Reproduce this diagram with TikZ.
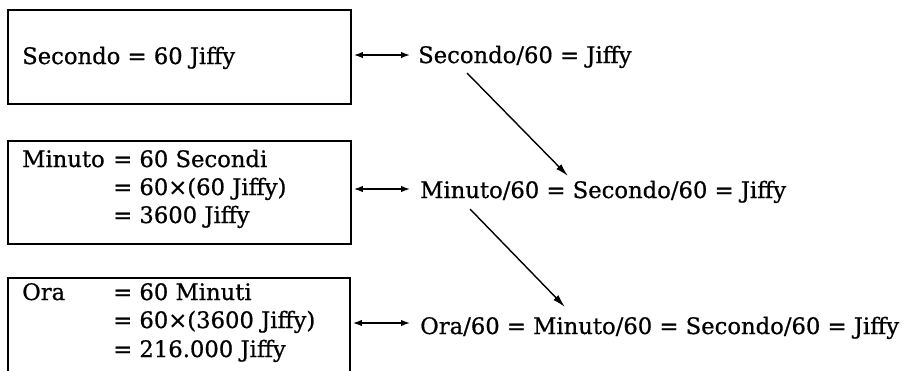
\documentclass[tikz,border=0pt]{standalone}
\usepackage{fontspec}
\setmainfont{DejaVu Serif}[FakeBold=0.7]
\usetikzlibrary{arrows.meta}
\begin{document}
\begin{tikzpicture}[x=1pt,y=-1pt,
  box/.style={draw, line width=2.4pt, inner sep=0pt, anchor=north west},
  txt/.style={anchor=base west, inner sep=0pt, font=\fontsize{22.7}{28}\selectfont},
  dbl/.style={{Latex[length=9pt,width=6.5pt]}-{Latex[length=9pt,width=6.5pt]}, line width=1.4pt},
  arr/.style={-{Latex[length=13pt,width=7pt]}, line width=1.4pt}]
\clip (0,0) rectangle (904,370);
% boxes
\node[box, minimum width=343pt, minimum height=94pt] (b1) at (7,9) {};
\node[box, minimum width=343pt, minimum height=103pt] (b2) at (7,140) {};
\node[box, minimum width=342pt, minimum height=150pt] (b3) at (7,277) {};
% box texts
\node[txt] (t1) at (22,64) {Secondo = 60 Jiffy};
\node[txt] (t2m) at (22,167) {Minuto};
\node[txt] (t2a) at (113,167) {= 60 Secondi};
\node[txt] (t2b) at (113,195) {= 60×(60 Jiffy)};
\node[txt] (t2c) at (113,223) {= 3600 Jiffy};
\node[txt] (t3o) at (22,300) {Ora};
\node[txt] (t3a) at (113,300) {= 60 Minuti};
\node[txt] (t3b) at (113,328) {= 60×(3600 Jiffy)};
\node[txt] (t3c) at (113,357) {= 216.000 Jiffy};
% right texts
\node[txt] (r1) at (418,63) {Secondo/60 = Jiffy};
\node[txt] (r2) at (420,198) {Minuto/60 = Secondo/60 = Jiffy};
\node[txt] (r3) at (420,334) {Ora/60 = Minuto/60 = Secondo/60 = Jiffy};
% arrow ends
\coordinate (h1) at (410,55);
\coordinate (h2) at (410,189);
\coordinate (h3) at (410,323);
\coordinate (d1s) at (467,73);
\coordinate (d1e) at (568,176);
\coordinate (d2s) at (470,209);
\coordinate (d2e) at (565,307);
% connectors
\draw[dbl] ([xshift=1.5pt]b1.east |- h1) -- (h1);
\draw[dbl] ([xshift=1.5pt]b2.east |- h2) -- (h2);
\draw[dbl] ([xshift=1.5pt]b3.east |- h3) -- (h3);
\draw[arr] (d1s) -- (d1e);
\draw[arr] (d2s) -- (d2e);
\end{tikzpicture}
\end{document}
